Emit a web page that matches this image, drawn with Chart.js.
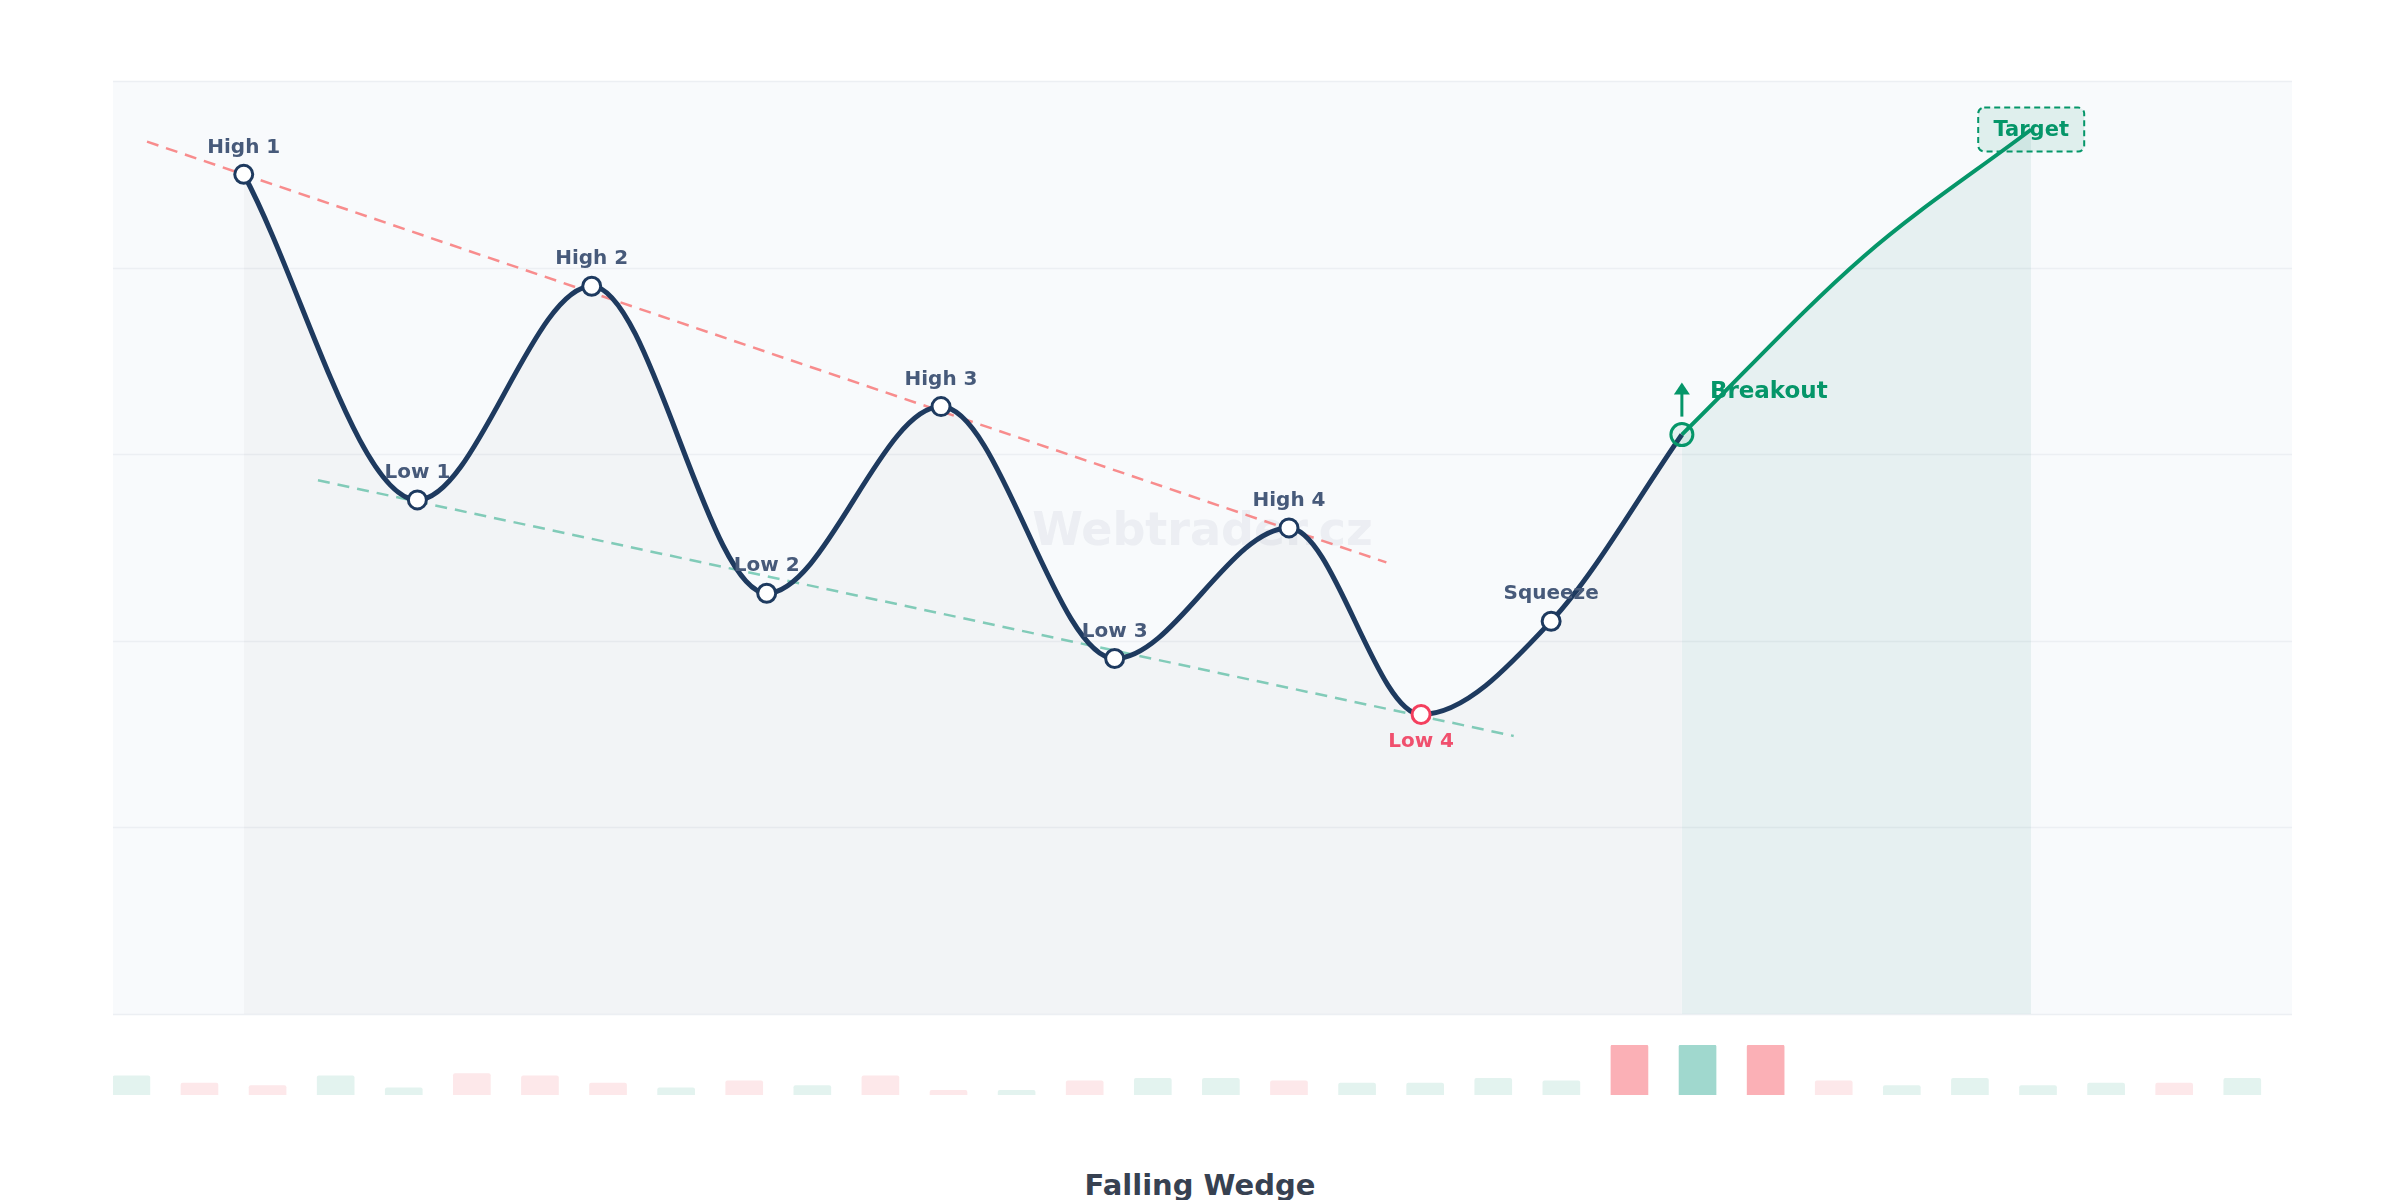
<!DOCTYPE html>
<html lang="en">
<head>
<meta charset="UTF-8">
<title>Falling Wedge</title>
<script src="https://cdn.jsdelivr.net/npm/chart.js"></script>
<style>
    body { margin: 0; background: #fff; font-family: 'DejaVu Sans', sans-serif; }
    .wrap { position: relative; width: 2400px; height: 1200px; }
    canvas { position: absolute; left: 0; }
    #priceChart { top: 0; }
    #volumeChart { top: 1030px; }
    .title {
        position: absolute; left: 0; width: 2400px; top: 1168px;
        text-align: center; font-size: 29px; font-weight: bold; color: #374151;
    }
</style>
</head>
<body>
<div class="wrap">
    <canvas id="priceChart" width="2400" height="1030"></canvas>
    <canvas id="volumeChart" width="2400" height="80"></canvas>
    <div class="title">Falling Wedge</div>
</div>
<script>
    // swing points of the pattern
    const pointLabels = ['High 1', 'Low 1', 'High 2', 'Low 2', 'High 3', 'Low 3', 'High 4', 'Low 4', 'Squeeze', 'Breakout'];
    const pointX = [1.92, 4.47, 7.03, 9.60, 12.16, 14.71, 17.27, 19.21, 21.12, 23.04];
    const pointY = [90.0, 55.1, 78.0, 45.1, 65.1, 38.1, 52.1, 32.1, 42.1, 62.1];

    // breakout leg up to the target
    const breakoutX = [23.04, 25.71, 28.17];
    const breakoutY = [62.1, 81.2, 94.8];

    // wedge trendlines
    const resistanceX = [0.50, 18.70];
    const resistanceY = [93.5, 48.4];
    const supportX = [3.01, 20.57];
    const supportY = [57.2, 29.8];

    const gridValues = [0, 20, 40, 60, 80, 100];

    // volume bars (g = up, r = down, G/R = strong)
    const volume = [8, 5, 4, 8, 3, 9, 8, 5, 3, 6, 4, 8, 2, 2, 6, 7, 7, 6, 5, 5, 7, 6, 21, 21, 21, 6, 4, 7, 4, 5, 5, 7];
    const volumeSide = 'grrggrrrgrgrrgrggrggggRGRrggggrg'.split('');

    const pad = { left: 113, right: 108 };
    const xRange = { min: 0, max: 32 };

    const volColors = { g: '#e3f3ef', r: '#fde8ea', G: '#a0d8ce', R: '#fbb0b6' };

    const bgPlugin = {
        id: 'bg',
        beforeDatasetsDraw(chart) {
            const { ctx, chartArea: a, scales: { y } } = chart;
            ctx.save();
            ctx.fillStyle = '#f8fafc';
            ctx.fillRect(a.left, a.top, a.right - a.left, a.bottom - a.top);
            ctx.strokeStyle = '#eceff3';
            ctx.lineWidth = 1.5;
            gridValues.forEach(v => {
                const py = Math.round(y.getPixelForValue(v)) + 0.5;
                ctx.beginPath(); ctx.moveTo(a.left, py); ctx.lineTo(a.right, py); ctx.stroke();
            });
            // watermark
            ctx.fillStyle = 'rgba(200, 205, 215, 0.25)';
            ctx.font = 'bold 46px "DejaVu Sans"';
            ctx.textAlign = 'center'; ctx.textBaseline = 'middle';
            ctx.fillText('Webtrader.cz', (a.left + a.right) / 2, y.getPixelForValue(51.5));
            ctx.restore();
        }
    };

    const notePlugin = {
        id: 'notes',
        afterDatasetsDraw(chart) {
            const { ctx, scales: { x, y } } = chart;
            ctx.save();
            ctx.textAlign = 'center';
            ctx.font = 'bold 20px "DejaVu Sans"';
            pointLabels.forEach((t, i) => {
                if (t === 'Breakout') return;
                const px = x.getPixelForValue(pointX[i]);
                const py = y.getPixelForValue(pointY[i]);
                if (t === 'Low 4') {
                    ctx.fillStyle = '#f0506e';
                    ctx.textBaseline = 'top';
                    ctx.fillText(t, px, py + 17);
                } else {
                    ctx.fillStyle = '#475a7a';
                    ctx.textBaseline = 'bottom';
                    ctx.fillText(t, px, py - 17);
                }
            });

            // breakout arrow + label
            const bx = x.getPixelForValue(pointX[9]);
            const by = y.getPixelForValue(pointY[9]);
            ctx.strokeStyle = '#059669'; ctx.fillStyle = '#059669';
            ctx.lineWidth = 3;
            ctx.beginPath(); ctx.moveTo(bx, by - 18); ctx.lineTo(bx, by - 42); ctx.stroke();
            ctx.beginPath(); ctx.moveTo(bx, by - 52); ctx.lineTo(bx - 8, by - 40); ctx.lineTo(bx + 8, by - 40); ctx.fill();
            ctx.font = 'bold 23px "DejaVu Sans"';
            ctx.textAlign = 'left'; ctx.textBaseline = 'middle';
            ctx.fillText('Breakout', bx + 28, by - 43);

            // target box
            const tx = x.getPixelForValue(breakoutX[2]);
            const ty = y.getPixelForValue(breakoutY[2]);
            ctx.beginPath();
            ctx.roundRect(tx - 53, ty - 22, 106, 44, 6);
            ctx.fillStyle = 'rgba(5, 150, 105, 0.1)';
            ctx.fill();
            ctx.setLineDash([6, 4]); ctx.lineWidth = 2;
            ctx.stroke();
            ctx.setLineDash([]);
            ctx.fillStyle = '#059669';
            ctx.font = 'bold 21px "DejaVu Sans"';
            ctx.textAlign = 'center';
            ctx.fillText('Target', tx, ty + 1);
            ctx.restore();
        }
    };

    const toXY = (xs, ys) => xs.map((v, i) => ({ x: v, y: ys[i] }));

    new Chart(document.getElementById('priceChart'), {
        type: 'line',
        data: {
            datasets: [{
                data: toXY(pointX, pointY),
                borderColor: '#1e3a5f',
                borderWidth: 5,
                cubicInterpolationMode: 'monotone',
                fill: 'origin',
                backgroundColor: 'rgba(110, 115, 125, 0.045)',
                pointRadius: pointLabels.map(t => t === 'Breakout' ? 0 : 9),
                pointBackgroundColor: '#ffffff',
                pointBorderColor: pointLabels.map(t => t === 'Low 4' ? '#f43f5e' : '#1e3a5f'),
                pointBorderWidth: 3,
                order: 2
            }, {
                data: toXY(breakoutX, breakoutY),
                borderColor: '#059669',
                borderWidth: 4,
                cubicInterpolationMode: 'monotone',
                fill: 'origin',
                backgroundColor: 'rgba(5, 120, 95, 0.07)',
                pointRadius: [11, 0, 0],
                pointBackgroundColor: 'rgba(5, 150, 105, 0.08)',
                pointBorderColor: '#059669',
                pointBorderWidth: 3,
                order: 1
            }, {
                data: toXY(resistanceX, resistanceY),
                borderColor: 'rgba(248, 113, 113, 0.8)',
                borderWidth: 2.5,
                borderDash: [12, 8],
                pointRadius: 0,
                fill: false,
                order: 3
            }, {
                data: toXY(supportX, supportY),
                borderColor: 'rgba(52, 178, 145, 0.6)',
                borderWidth: 2.5,
                borderDash: [12, 8],
                pointRadius: 0,
                fill: false,
                order: 3
            }]
        },
        options: {
            responsive: false,
            animation: false,
            devicePixelRatio: 1,
            layout: { padding: { left: pad.left, right: pad.right, top: 81, bottom: 16 } },
            plugins: { legend: { display: false }, tooltip: { enabled: false } },
            scales: {
                x: { type: 'linear', min: xRange.min, max: xRange.max, display: false },
                y: { min: 0, max: 100, display: false }
            }
        },
        plugins: [bgPlugin, notePlugin]
    });

    new Chart(document.getElementById('volumeChart'), {
        type: 'bar',
        data: {
            datasets: [{
                data: volume.map((v, i) => ({ x: i + 0.27, y: v })),
                backgroundColor: volumeSide.map(s => volColors[s]),
                barThickness: 37,
                borderRadius: 2
            }]
        },
        options: {
            responsive: false,
            animation: false,
            devicePixelRatio: 1,
            layout: { padding: { left: pad.left, right: pad.right, top: 15, bottom: 15 } },
            plugins: { legend: { display: false }, tooltip: { enabled: false } },
            scales: {
                x: { type: 'linear', offset: false, min: xRange.min, max: xRange.max, display: false },
                y: { min: 0, max: 21, display: false }
            }
        }
    });
</script>
</body>
</html>
